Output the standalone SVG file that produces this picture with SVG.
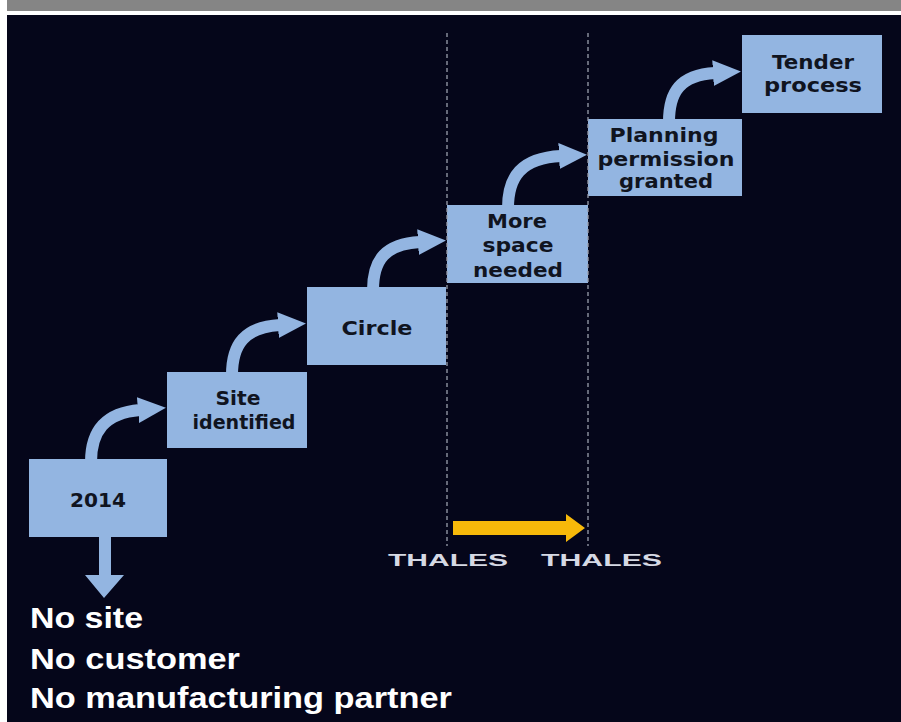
<svg xmlns="http://www.w3.org/2000/svg" width="901" height="722" viewBox="0 0 901 722">
<style>
.box{fill:#93b5e1;}
.bt{font-family:"DejaVu Sans","Liberation Sans",sans-serif;font-weight:bold;font-size:20px;fill:#10141f;text-anchor:middle;}
.conn{fill:none;stroke:#93b5e1;stroke-width:12;}
.dash{stroke:#9a9eab;stroke-width:1.3;stroke-dasharray:4 3;fill:none;}
.note{font-family:"Liberation Sans",Arial,sans-serif;font-weight:bold;fill:#ffffff;}
.thales{font-family:"Liberation Sans",Arial,sans-serif;font-weight:bold;font-size:16px;fill:#d6d9e4;}
</style>
<defs>
<marker id="ah" markerUnits="userSpaceOnUse" markerWidth="30" markerHeight="28" refX="2" refY="13" orient="auto">
<path d="M0,0 L28,13 L0,26 z" fill="#93b5e1"/>
</marker>
</defs>
<rect x="0" y="0" width="901" height="722" fill="#ffffff"/>
<rect x="7" y="0" width="894" height="11" fill="#858585"/>
<rect x="7" y="15" width="894" height="707" fill="#05061a"/>

<g id="connectors">
<path class="conn" d="M91,462 C91,432 104,413 140,410" marker-end="url(#ah)"/>
<path class="conn" d="M232,375 C232,344 245,327 280,325" marker-end="url(#ah)"/>
<path class="conn" d="M373,290 C373,259 386,244 420,242" marker-end="url(#ah)"/>
<path class="conn" d="M508,208 C508,177 521,158 561,156" marker-end="url(#ah)"/>
<path class="conn" d="M669,122 C669,92 680,75 715,73" marker-end="url(#ah)"/>
<polygon points="99,536 111,536 111,575 124,575 104,598 85,575 99,575" fill="#93b5e1"/>
</g>

<g id="n2014"><rect class="box" x="29" y="459" width="138" height="78"/><text class="bt" x="98" y="507" textLength="56" lengthAdjust="spacingAndGlyphs">2014</text></g>
<g id="nsite"><rect class="box" x="167" y="372" width="140" height="76"/><text class="bt" x="238" y="405" textLength="45" lengthAdjust="spacingAndGlyphs">Site</text><text class="bt" x="244" y="429" textLength="103" lengthAdjust="spacingAndGlyphs">identified</text></g>
<g id="ncircle"><rect class="box" x="307" y="287" width="139" height="78"/><text class="bt" x="377" y="335" textLength="71" lengthAdjust="spacingAndGlyphs">Circle</text></g>
<g id="nspace"><rect class="box" x="447" y="205" width="141" height="78"/><text class="bt" x="517" y="228" textLength="60" lengthAdjust="spacingAndGlyphs">More</text><text class="bt" x="518" y="252" textLength="71" lengthAdjust="spacingAndGlyphs">space</text><text class="bt" x="518" y="277" textLength="90" lengthAdjust="spacingAndGlyphs">needed</text></g>
<g id="nplanning"><rect class="box" x="588" y="119" width="154" height="77"/><text class="bt" x="664" y="142" textLength="109" lengthAdjust="spacingAndGlyphs">Planning</text><text class="bt" x="666" y="166" textLength="137" lengthAdjust="spacingAndGlyphs">permission</text><text class="bt" x="666" y="188" textLength="94" lengthAdjust="spacingAndGlyphs">granted</text></g>
<g id="ntender"><rect class="box" x="742" y="35" width="140" height="78"/><text class="bt" x="813" y="69" textLength="82" lengthAdjust="spacingAndGlyphs">Tender</text><text class="bt" x="813" y="92" textLength="98" lengthAdjust="spacingAndGlyphs">process</text></g>

<g id="dividers">
<line class="dash" x1="447" y1="33" x2="447" y2="546"/>
<line class="dash" x1="588" y1="33" x2="588" y2="546"/>
</g>

<g id="thales">
<polygon points="453,521 566,521 566,514 585,528 566,542 566,535 453,535" fill="#f7b90a"/>
<text class="thales" x="388" y="566" textLength="120" lengthAdjust="spacingAndGlyphs">THALES</text>
<text class="thales" x="541" y="566" textLength="121" lengthAdjust="spacingAndGlyphs">THALES</text>
</g>

<g id="notes">
<text class="note" x="30" y="628" font-size="29" textLength="113" lengthAdjust="spacingAndGlyphs">No site</text>
<text class="note" x="30" y="669" font-size="29" textLength="210" lengthAdjust="spacingAndGlyphs">No customer</text>
<text class="note" x="30" y="708" font-size="30" textLength="422" lengthAdjust="spacingAndGlyphs">No manufacturing partner</text>
</g>
</svg>
